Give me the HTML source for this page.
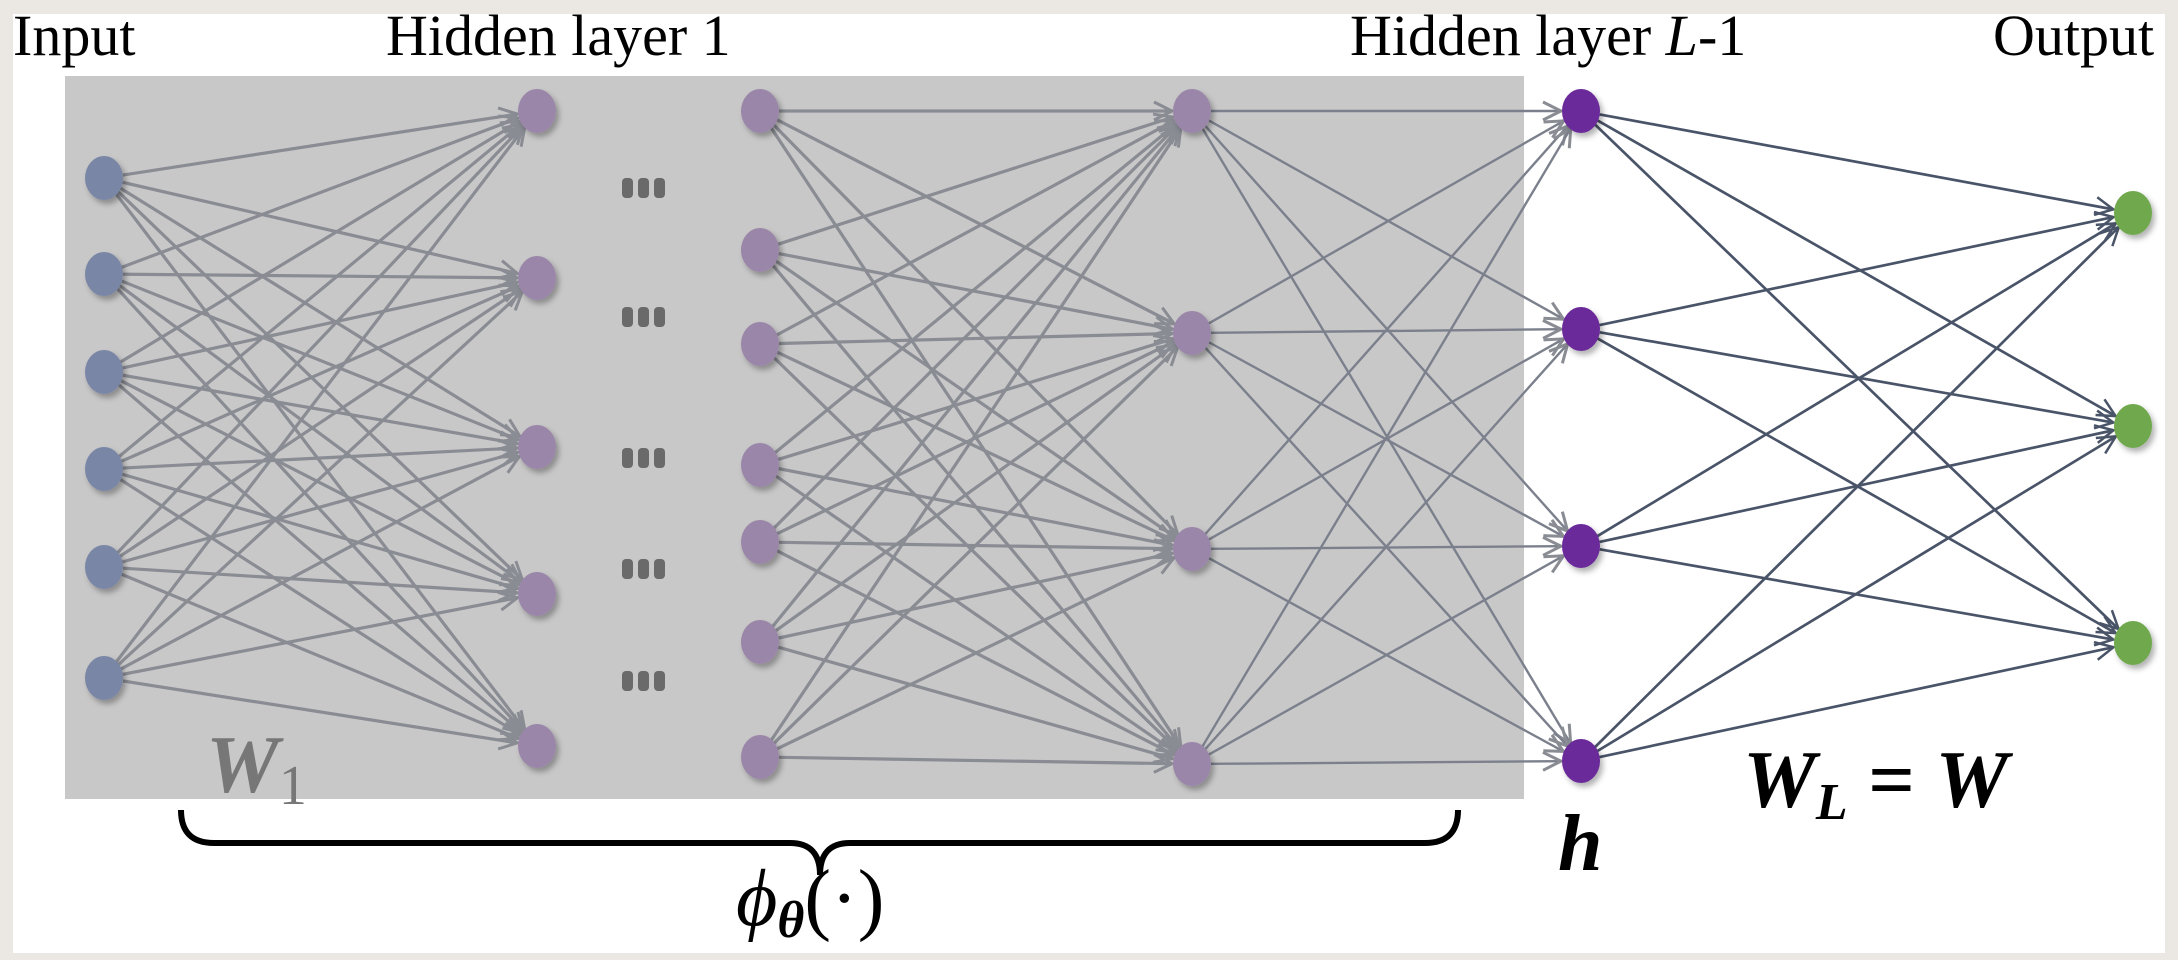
<!DOCTYPE html>
<html><head><meta charset="utf-8"><style>
html,body{margin:0;padding:0;background:#ebe8e3;}
svg{display:block}
</style></head><body>
<svg id="s" width="2178" height="960" xmlns="http://www.w3.org/2000/svg">
<defs>
<marker id="ag" markerUnits="userSpaceOnUse" markerWidth="24" markerHeight="24" refX="20" refY="12" orient="auto"><path d="M2,3 L20,12 L2,21" fill="none" stroke="#8a8c94" stroke-width="3"/></marker>
<marker id="ad" markerUnits="userSpaceOnUse" markerWidth="24" markerHeight="24" refX="20" refY="12" orient="auto"><path d="M2,3 L20,12 L2,21" fill="none" stroke="#4a5468" stroke-width="2.5"/></marker>
<filter id="sh" x="-50%" y="-50%" width="200%" height="200%"><feDropShadow dx="3" dy="4" stdDeviation="3" flood-color="#000" flood-opacity="0.3"/></filter>
</defs>
<rect x="13" y="14" width="2152" height="939" fill="#ffffff"/>
<rect x="65" y="76" width="1459" height="723" fill="#c9c8c9"/>
<g id="edges"></g>
<g id="nodes"></g>
<g font-family="'Liberation Serif',serif" font-size="58" fill="#000">
<text x="13" y="55">Input</text>
<text x="386" y="55">Hidden layer 1</text>
<text x="1350" y="55">Hidden layer <tspan font-style="italic">L</tspan>-1</text>
<text x="1993" y="55">Output</text>
</g>
<g fill="#6a6a6a">
<rect x="622" y="178" width="11" height="20" rx="4"/><rect x="638" y="178" width="11" height="20" rx="4"/><rect x="654" y="178" width="11" height="20" rx="4"/>
<rect x="622" y="307" width="11" height="20" rx="4"/><rect x="638" y="307" width="11" height="20" rx="4"/><rect x="654" y="307" width="11" height="20" rx="4"/>
<rect x="622" y="448" width="11" height="20" rx="4"/><rect x="638" y="448" width="11" height="20" rx="4"/><rect x="654" y="448" width="11" height="20" rx="4"/>
<rect x="622" y="559" width="11" height="20" rx="4"/><rect x="638" y="559" width="11" height="20" rx="4"/><rect x="654" y="559" width="11" height="20" rx="4"/>
<rect x="622" y="671" width="11" height="20" rx="4"/><rect x="638" y="671" width="11" height="20" rx="4"/><rect x="654" y="671" width="11" height="20" rx="4"/>
</g>
<text x="206" y="792" font-family="'Liberation Serif',serif" font-size="82" font-weight="bold" font-style="italic" fill="#777">W<tspan font-size="56" font-style="normal" font-weight="normal" dy="12">1</tspan></text>
<text x="1558" y="870" font-family="'Liberation Serif',serif" font-size="80" font-weight="bold" font-style="italic" fill="#000">h</text>
<text x="1743" y="807" font-family="'Liberation Serif',serif" font-size="82" font-weight="bold" fill="#000"><tspan font-style="italic">W</tspan><tspan font-size="52" font-style="italic" dy="12">L</tspan><tspan dy="-12"> = </tspan><tspan font-style="italic">W</tspan></text>
<text x="736" y="925" font-family="'Liberation Serif',serif" font-size="80" font-style="italic" fill="#000">ϕ<tspan font-size="52" font-weight="bold" dy="12">θ</tspan><tspan dy="-12" font-style="normal">(·)</tspan></text>
<path d="M181,810 Q181,843 214,843 L790,843 Q820,843 820,875 Q820,843 850,843 L1425,843 Q1458,843 1458,810" fill="none" stroke="#000" stroke-width="6"/>
</svg>
<script>
var L=[
 {x:104,ys:[178,274,372,469,567,678],c:"#7a86a6"},
 {x:537,ys:[111,278,447,594,746],c:"#9a86a8"},
 {x:760,ys:[111,250,344,465,542,642,757],c:"#9a86a8"},
 {x:1192,ys:[111,333,549,764],c:"#9a86a8"},
 {x:1581,ys:[111,329,546,761],c:"#6a2a9a"},
 {x:2133,ys:[213,426,643],c:"#70a84e"}
];
var NS="http://www.w3.org/2000/svg",E=document.getElementById("edges"),N=document.getElementById("nodes");
function conn(a,b,col,w,m){a.ys.forEach(function(y1){b.ys.forEach(function(y2){
 var l=document.createElementNS(NS,"line");
 var dx=b.x-a.x,dy=y2-y1,d=Math.sqrt(dx*dx+dy*dy);
 l.setAttribute("x1",a.x+19*dx/d);l.setAttribute("y1",y1+19*dy/d);
 l.setAttribute("x2",b.x-20*dx/d);l.setAttribute("y2",y2-20*dy/d);
 l.setAttribute("stroke",col);l.setAttribute("stroke-width",w);l.setAttribute("marker-end","url(#"+m+")");
 E.appendChild(l);});});}
conn(L[0],L[1],"#8a8c94",3.2,"ag");
conn(L[2],L[3],"#8a8c94",3.2,"ag");
conn(L[3],L[4],"#7b808c",2.4,"ag");
conn(L[4],L[5],"#4a5468",2.7,"ad");
L.forEach(function(l){l.ys.forEach(function(y){
 var e=document.createElementNS(NS,"ellipse");
 e.setAttribute("cx",l.x);e.setAttribute("cy",y);e.setAttribute("rx",19);e.setAttribute("ry",22);
 e.setAttribute("fill",l.c);e.setAttribute("filter","url(#sh)");N.appendChild(e);});});
</script>
</body></html>
